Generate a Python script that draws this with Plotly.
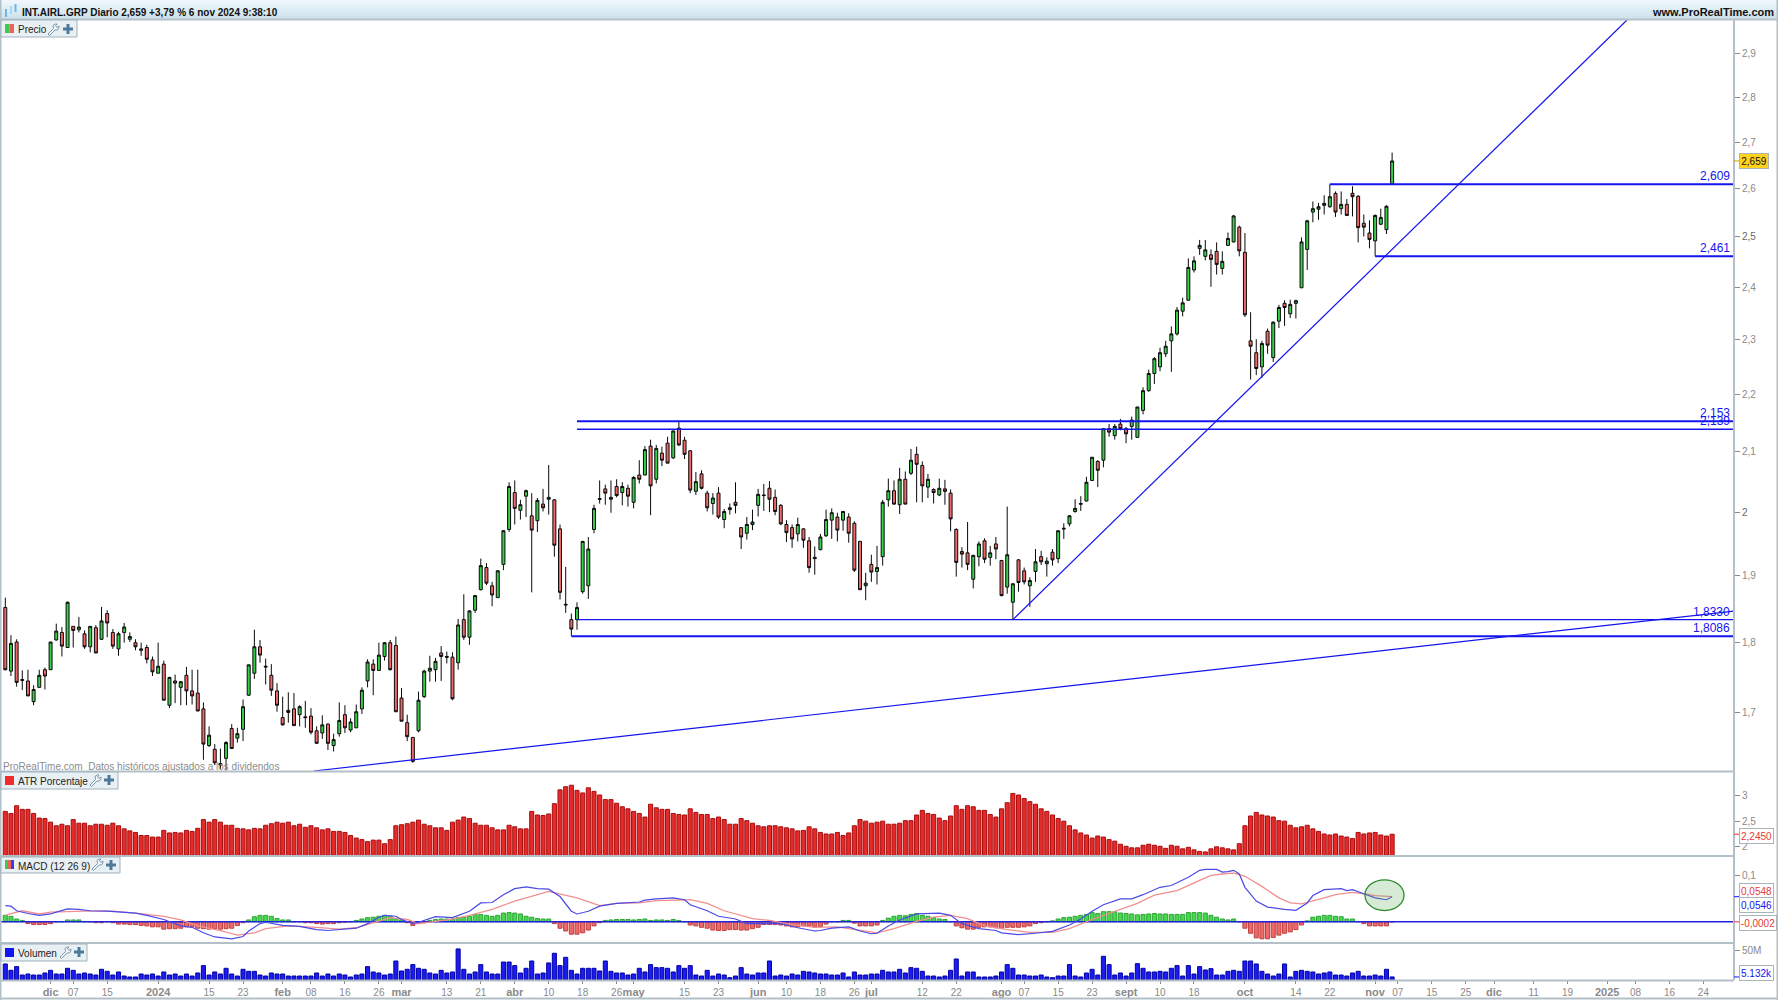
import math
import plotly.graph_objects as go

# ==================== Price data (daily candles) ====================
opens = [
    1.851,1.758,1.800,1.746,1.744,1.715,1.735,1.760,1.760,1.803,
    1.814,1.792,1.823,1.818,1.812,1.793,1.821,1.804,1.842,1.814,
    1.790,1.814,1.804,1.799,1.790,1.792,1.774,1.755,1.768,1.710,
    1.744,1.735,1.752,1.730,1.727,1.705,1.655,1.650,1.631,1.638,
    1.678,1.665,1.677,1.724,1.755,1.793,1.765,1.752,1.730,1.693,
    1.703,1.705,1.697,1.694,1.695,1.675,1.672,1.684,1.655,1.671,
    1.697,1.676,1.679,1.705,1.744,1.768,1.759,1.779,1.799,1.795,
    1.720,1.686,1.666,1.675,1.722,1.758,1.760,1.784,1.779,1.778,
    1.770,1.833,1.807,1.847,1.878,1.912,1.884,1.866,1.917,1.972,
    2.032,2.003,2.026,1.994,1.986,2.013,2.021,2.020,1.973,1.856,
    1.833,1.833,1.875,1.884,1.972,2.022,2.038,2.021,2.042,2.032,
    2.039,2.016,2.061,2.061,2.110,2.054,2.098,2.115,2.090,2.141,
    2.120,2.102,2.034,2.063,2.031,2.014,2.031,1.988,2.004,2.016,
    1.975,1.966,1.980,2.011,2.028,2.039,2.024,2.011,1.980,1.975,
    1.965,1.973,1.954,1.928,1.940,1.962,1.987,1.992,1.987,1.992,
    1.982,1.953,1.884,1.917,1.906,1.929,2.020,2.035,2.012,2.054,
    2.064,2.096,2.077,2.041,2.037,2.028,2.038,2.031,1.972,1.937,
    1.935,1.894,1.929,1.954,1.928,1.949,1.923,1.882,1.859,1.924,
    1.907,1.884,1.906,1.929,1.918,1.936,1.926,1.974,1.981,2.001,
    2.014,2.018,2.052,2.084,2.086,2.140,2.128,2.148,2.140,2.144,
    2.125,2.172,2.207,2.238,2.250,2.274,2.298,2.311,2.354,2.375,
    2.434,2.477,2.461,2.464,2.471,2.437,2.483,2.490,2.520,2.469,
    2.298,2.276,2.250,2.316,2.267,2.335,2.369,2.349,2.369,2.399,
    2.475,2.551,2.557,2.565,2.562,2.590,2.558,2.567,2.590,2.584,
    2.528,2.508,2.492,2.526,2.515,2.610,
]
highs = [
    1.866,1.810,1.804,1.759,1.760,1.738,1.760,1.763,1.800,1.827,
    1.822,1.860,1.823,1.837,1.817,1.823,1.825,1.852,1.847,1.819,
    1.815,1.828,1.814,1.804,1.799,1.796,1.779,1.799,1.773,1.750,
    1.753,1.744,1.764,1.760,1.760,1.714,1.681,1.657,1.651,1.661,
    1.684,1.679,1.718,1.767,1.818,1.803,1.776,1.768,1.741,1.722,
    1.728,1.727,1.710,1.716,1.706,1.681,1.696,1.685,1.671,1.714,
    1.710,1.692,1.711,1.735,1.775,1.775,1.799,1.800,1.803,1.808,
    1.734,1.697,1.666,1.729,1.760,1.780,1.777,1.794,1.786,1.785,
    1.834,1.871,1.847,1.870,1.926,1.919,1.890,1.908,1.971,2.049,
    2.052,2.020,2.037,2.031,2.023,2.038,2.078,2.021,1.980,1.913,
    1.842,1.859,1.954,1.960,2.012,2.052,2.045,2.052,2.054,2.049,
    2.045,2.059,2.086,2.110,2.121,2.112,2.109,2.126,2.137,2.153,
    2.126,2.103,2.066,2.069,2.035,2.031,2.041,2.005,2.014,2.049,
    1.976,1.992,2.004,2.038,2.046,2.051,2.037,2.013,1.987,1.980,
    1.991,1.974,1.960,1.945,1.965,2.004,2.006,1.999,2.002,1.998,
    1.985,1.954,1.904,1.932,1.946,2.020,2.055,2.052,2.073,2.067,
    2.105,2.109,2.084,2.063,2.039,2.055,2.053,2.037,1.974,1.944,
    1.984,1.932,1.953,1.958,1.946,1.960,1.924,2.009,1.888,1.925,
    1.912,1.897,1.941,1.938,1.928,1.941,1.970,1.982,1.995,2.021,
    2.026,2.058,2.091,2.086,2.141,2.148,2.148,2.157,2.143,2.161,
    2.178,2.213,2.245,2.268,2.285,2.298,2.325,2.362,2.380,2.457,
    2.461,2.494,2.494,2.475,2.489,2.471,2.509,2.545,2.523,2.508,
    2.352,2.301,2.298,2.321,2.335,2.366,2.375,2.376,2.376,2.499,
    2.535,2.573,2.570,2.586,2.609,2.594,2.594,2.578,2.605,2.586,
    2.546,2.534,2.546,2.558,2.565,2.677,
]
lows = [
    1.759,1.751,1.736,1.731,1.723,1.710,1.735,1.732,1.760,1.802,
    1.779,1.792,1.792,1.814,1.790,1.785,1.784,1.803,1.807,1.790,
    1.780,1.799,1.800,1.788,1.780,1.769,1.751,1.755,1.717,1.706,
    1.713,1.710,1.710,1.711,1.702,1.636,1.653,1.629,1.624,1.622,
    1.651,1.659,1.661,1.723,1.747,1.770,1.739,1.723,1.701,1.682,
    1.686,1.682,1.681,1.679,1.670,1.658,1.664,1.649,1.647,1.667,
    1.672,1.673,1.679,1.698,1.735,1.724,1.759,1.773,1.759,1.701,
    1.688,1.661,1.632,1.673,1.720,1.743,1.743,1.744,1.769,1.717,
    1.760,1.803,1.796,1.843,1.877,1.885,1.853,1.866,1.908,1.968,
    1.980,1.988,1.992,1.874,1.968,2.001,1.996,1.929,1.863,1.843,
    1.809,1.818,1.872,1.864,1.966,2.014,2.012,1.999,2.024,2.011,
    2.009,2.006,2.047,2.061,1.995,2.047,2.076,2.081,2.088,2.110,
    2.088,2.031,2.028,2.037,2.001,1.996,1.989,1.974,1.996,1.998,
    1.941,1.956,1.971,1.993,2.002,2.000,1.995,1.979,1.952,1.943,
    1.953,1.943,1.904,1.901,1.939,1.960,1.957,1.953,1.970,1.951,
    1.905,1.878,1.862,1.890,1.886,1.915,2.009,2.012,1.997,2.013,
    2.061,2.016,2.016,2.023,2.014,2.026,2.012,1.969,1.898,1.912,
    1.908,1.880,1.914,1.919,1.915,1.925,1.868,1.872,1.833,1.875,
    1.886,1.852,1.890,1.916,1.898,1.915,1.919,1.957,1.977,1.999,
    2.002,2.018,2.051,2.041,2.074,2.126,2.121,2.137,2.115,2.121,
    2.125,2.165,2.205,2.219,2.242,2.268,2.241,2.308,2.344,2.374,
    2.429,2.464,2.453,2.401,2.425,2.425,2.482,2.489,2.461,2.343,
    2.227,2.235,2.230,2.274,2.259,2.322,2.326,2.341,2.340,2.399,
    2.434,2.530,2.535,2.546,2.560,2.541,2.546,2.544,2.542,2.489,
    2.501,2.477,2.461,2.524,2.506,2.610,
]
closes = [
    1.760,1.798,1.742,1.745,1.723,1.732,1.752,1.751,1.800,1.816,
    1.794,1.859,1.817,1.822,1.793,1.823,1.784,1.831,1.828,1.794,
    1.812,1.822,1.808,1.793,1.788,1.775,1.757,1.765,1.717,1.749,
    1.741,1.743,1.730,1.723,1.702,1.657,1.669,1.632,1.629,1.659,
    1.651,1.671,1.708,1.767,1.793,1.781,1.764,1.731,1.710,1.683,
    1.700,1.682,1.708,1.693,1.673,1.658,1.683,1.658,1.663,1.689,
    1.679,1.687,1.701,1.731,1.771,1.759,1.781,1.799,1.760,1.701,
    1.688,1.667,1.634,1.717,1.758,1.762,1.772,1.779,1.778,1.719,
    1.825,1.807,1.846,1.869,1.915,1.888,1.870,1.907,1.970,2.042,
    2.006,2.012,2.035,1.971,2.019,2.007,2.024,1.947,1.874,1.855,
    1.819,1.851,1.953,1.941,2.006,2.021,2.031,2.024,2.027,2.042,
    2.026,2.057,2.054,2.104,2.043,2.106,2.086,2.081,2.136,2.112,
    2.096,2.036,2.050,2.039,2.007,2.023,1.992,2.001,2.007,2.011,
    1.960,1.980,1.984,2.029,2.027,2.021,2.001,1.981,1.967,1.957,
    1.980,1.955,1.912,1.926,1.960,1.988,1.999,1.971,2.001,1.966,
    1.908,1.878,1.888,1.905,1.912,2.016,2.035,2.013,2.054,2.013,
    2.086,2.079,2.043,2.054,2.032,2.039,2.034,1.989,1.920,1.933,
    1.917,1.931,1.949,1.925,1.935,1.941,1.869,1.932,1.887,1.889,
    1.890,1.892,1.921,1.921,1.922,1.924,1.970,1.973,1.994,2.006,
    2.013,2.049,2.091,2.069,2.140,2.134,2.144,2.140,2.131,2.155,
    2.178,2.207,2.238,2.265,2.276,2.288,2.311,2.356,2.370,2.439,
    2.452,2.483,2.474,2.455,2.445,2.451,2.497,2.543,2.472,2.347,
    2.288,2.247,2.293,2.290,2.333,2.361,2.361,2.367,2.374,2.490,
    2.533,2.558,2.562,2.569,2.583,2.551,2.567,2.544,2.583,2.519,
    2.520,2.495,2.544,2.540,2.563,2.659,
]

# ==================== Indicators ====================
atr_pct = [
    2.69,2.65,2.80,2.73,2.73,2.65,2.56,2.55,2.48,2.41,2.44,2.41,2.53,2.46,2.46,2.41,2.44,2.44,2.42,2.46,
    2.41,2.35,2.31,2.28,2.22,2.22,2.19,2.19,2.32,2.27,2.28,2.27,2.32,2.30,2.36,2.53,2.48,2.53,2.48,2.42,
    2.42,2.36,2.35,2.33,2.36,2.35,2.42,2.45,2.48,2.46,2.48,2.41,2.44,2.38,2.41,2.37,2.33,2.35,2.30,2.30,
    2.28,2.22,2.17,2.14,2.10,2.13,2.13,2.06,2.14,2.41,2.43,2.45,2.48,2.52,2.44,2.41,2.37,2.37,2.32,2.48,
    2.52,2.58,2.55,2.46,2.42,2.42,2.37,2.33,2.33,2.42,2.39,2.35,2.35,2.69,2.62,2.61,2.64,2.84,3.11,3.17,
    3.20,3.10,3.05,3.15,3.08,3.01,2.92,2.92,2.85,2.78,2.74,2.69,2.65,2.58,2.83,2.76,2.73,2.73,2.65,2.63,
    2.62,2.74,2.67,2.63,2.63,2.55,2.58,2.53,2.44,2.44,2.55,2.51,2.46,2.41,2.39,2.41,2.41,2.39,2.37,2.35,
    2.31,2.32,2.39,2.35,2.28,2.25,2.25,2.28,2.22,2.27,2.41,2.53,2.50,2.46,2.48,2.50,2.44,2.44,2.46,2.51,
    2.51,2.62,2.71,2.65,2.63,2.56,2.51,2.60,2.80,2.73,2.80,2.78,2.71,2.71,2.63,2.58,2.74,2.86,3.04,3.01,
    2.94,2.88,2.83,2.74,2.69,2.62,2.55,2.50,2.41,2.33,2.27,2.23,2.17,2.21,2.19,2.14,2.11,2.05,2.01,1.98,
    1.98,2.03,2.05,2.03,2.01,1.97,2.03,2.01,1.96,1.99,1.94,1.91,1.90,1.96,2.00,1.98,1.96,1.94,2.06,2.41,
    2.60,2.67,2.62,2.60,2.58,2.51,2.50,2.42,2.37,2.39,2.42,2.35,2.30,2.25,2.23,2.25,2.21,2.19,2.16,2.28,
    2.25,2.27,2.28,2.23,2.21,2.245,
]
macd_hist = [
    .014,.012,.006,.003,-.004,-.006,-.006,-.006,-.004,0,0,.004,.004,.004,0,0,-.002,-.002,0,-.002,
    -.005,-.005,-.006,-.006,-.008,-.009,-.011,-.011,-.016,-.015,-.015,-.014,-.011,-.011,-.014,-.015,-.016,-.015,-.016,-.015,
    -.014,-.008,-.002,.004,.011,.014,.014,.012,.007,.004,.004,0,0,-.002,-.002,-.004,-.005,-.004,-.004,-.002,
    -.001,0,.003,.006,.009,.010,.012,.014,.012,.007,.004,-.002,-.008,-.004,-.002,.003,.005,.006,.006,.006,
    .009,.010,.012,.016,.016,.014,.012,.014,.019,.020,.019,.017,.012,.010,.007,.006,.006,-.004,-.014,-.020,
    -.027,-.027,-.024,-.018,-.009,-.002,.003,.004,.005,.005,.005,.004,.005,.006,.003,.004,.004,.003,.005,.003,
    0,-.007,-.009,-.012,-.014,-.018,-.019,-.019,-.017,-.017,-.018,-.018,-.015,-.012,-.006,-.006,-.006,-.007,-.009,-.011,
    -.011,-.009,-.009,-.011,-.010,-.005,0,0,.003,.003,-.003,-.009,-.009,-.009,-.007,.003,.008,.012,.014,.013,
    .016,.018,.014,.012,.009,.006,.005,0,-.009,-.013,-.016,-.016,-.012,-.011,-.011,-.013,-.014,-.012,-.012,-.012,
    -.011,-.009,-.004,-.002,0,.002,.006,.009,.010,.012,.014,.016,.020,.018,.022,.022,.022,.019,.018,.017,
    .015,.016,.017,.018,.017,.017,.016,.016,.016,.020,.020,.020,.019,.014,.010,.006,.004,.006,0,-.014,
    -.025,-.035,-.037,-.037,-.034,-.029,-.025,-.022,-.017,-.007,.002,.010,.012,.014,.014,.012,.011,.006,.006,0,
    -.004,-.009,-.009,-.009,-.009,-.0002,
]
# MACD and signal lines, read as vertices along each curve
macd_idx = [0,1,2,4,6,8,9,11,13,15,18,21,23,25,28,31,33,35,37,40,42,43,45,46,49,52,55,57,60,62,64,66,67,69,70,72,73,76,79,82,84,86,88,90,92,94,96,98,100,101,103,105,
            108,112,113,115,118,120,121,124,126,129,131,133,137,140,143,144,146,149,151,153,154,156,158,161,165,167,169,172,175,176,179,182,185,188,190,192,194,197,199,201,204,206,209,211,
            212,214,215,216,217,218,219,221,223,226,228,230,231,233,236,237,238,240,242,244,245]
macd_line = [.035,.034,.024,.018,.014,.017,.021,.028,.027,.024,.023,.020,.019,.014,.005,-.009,-.012,-.024,-.033,-.037,-.032,-.020,-.004,-.001,-.008,-.010,-.017,-.019,-.016,-.014,-.004,.010,.014,.012,.005,-.004,-.001,.011,.009,.023,.041,.042,.059,.072,.076,.072,.071,.055,.023,.017,.023,.034,
             .040,.043,.047,.050,.052,.048,.037,.024,.012,.006,-.004,-.004,-.004,-.013,-.020,-.019,-.014,-.011,-.020,-.026,-.025,-.009,.004,.017,.019,.014,-.004,-.015,-.019,-.024,-.028,-.025,-.021,-.007,.006,.023,.037,.050,.050,.059,.075,.079,.097,.112,
             .114,.114,.108,.109,.112,.104,.075,.045,.032,.027,.025,.041,.057,.070,.072,.068,.070,.061,.052,.048,.0546]
signal_idx = [0,1,3,6,8,14,19,23,28,31,34,38,41,44,46,50,55,59,62,65,68,71,73,76,79,82,86,90,94,96,101,105,
              108,112,115,119,121,124,127,132,135,139,143,147,151,154,157,161,164,167,170,173,177,181,185,188,192,196,200,203,207,211,
              213,215,217,219,222,225,227,229,231,233,235,238,240,242,245]
signal_line = [.014,.018,.024,.017,.021,.023,.023,.019,.012,.004,-.009,-.019,-.029,-.024,-.015,-.009,-.012,-.016,-.013,-.002,.009,.005,-.004,.001,.006,.014,.027,.045,.059,.066,.052,.035,
               .040,.041,.046,.048,.048,.040,.024,.007,.003,-.006,-.012,-.011,-.019,-.024,-.015,.001,.010,.014,.007,-.009,-.017,-.023,-.023,-.015,.005,.023,.040,.058,.068,.090,
               .101,.104,.106,.099,.077,.052,.041,.039,.045,.052,.059,.064,.061,.057,.0548]
volume_m = [
    27.0,16.3,22.5,8.4,10.1,8.4,8.4,11.8,16.3,10.1,10.1,19.7,16.3,10.1,11.8,10.1,8.4,18.0,14.6,8.4,
    13.5,6.7,5.1,5.1,10.1,8.4,10.1,6.7,13.5,8.4,10.1,6.7,10.1,6.7,11.8,24.2,8.4,13.5,10.1,19.7,
    10.1,6.7,18.0,14.6,14.6,8.4,6.7,11.8,10.1,10.1,6.7,6.7,6.7,6.7,6.7,11.8,6.7,10.1,6.7,10.1,
    8.4,5.1,8.4,10.1,22.5,13.5,11.8,8.4,10.1,32.0,15.2,18.0,25.9,19.7,18.0,11.8,10.1,16.3,11.8,13.5,
    52.3,18.0,10.1,13.5,25.9,13.5,10.1,10.1,30.3,30.3,24.2,11.8,19.7,32.0,10.1,11.8,28.7,45.0,24.2,38.2,
    16.3,10.1,19.7,19.7,19.7,15.2,32.0,14.6,11.8,11.8,8.4,10.1,19.7,13.5,25.9,20.8,20.8,19.7,13.5,24.2,
    19.7,24.2,8.4,6.7,16.3,6.7,10.1,8.4,3.9,6.7,20.8,10.1,8.4,11.8,11.8,32.0,6.7,8.4,6.7,10.1,
    8.4,14.6,13.5,11.8,10.1,10.1,8.4,8.4,11.8,5.1,13.5,8.4,8.4,10.1,10.1,16.3,13.5,13.5,18.0,11.8,
    20.8,19.7,14.6,6.7,6.7,5.1,6.7,16.3,35.4,6.7,13.5,13.5,5.1,5.1,5.1,6.7,13.5,25.9,19.7,8.4,
    8.4,6.7,6.7,8.4,5.1,3.9,6.7,6.7,25.9,6.7,5.1,11.8,18.0,8.4,39.9,25.9,8.4,11.8,6.7,11.8,
    27.5,19.7,13.5,13.5,14.6,13.5,19.7,24.2,6.7,24.2,10.1,22.5,16.9,19.1,8.4,8.4,14.6,16.3,14.6,32.0,
    32.0,27.0,14.6,10.1,6.7,10.1,27.0,5.1,14.6,16.3,14.6,13.5,10.1,11.8,13.5,8.4,8.4,6.7,11.8,14.6,
    6.7,6.7,8.4,6.7,18.0,5.132,
]

# ==================== X axis labels ====================
x_tick_idx = [8,12,18,27,36,42,49,54,60,66,70,78,84,90,96,102,108,111,120,126,133,138,144,150,153,162,168,176,180,186,192,198,204,210,219,228,234,242,246,252,258,263,270,276,283,288,294,300]
x_tick_txt = ["dic","07","15","2024","15","23","feb","08","16","26","mar","13","21","abr","10","18","26","may","15","23","jun","10","18","26","jul","12","22","ago","07","15","23","sept","10","18","oct","14","22","nov","07","15","25","dic","11","19","2025","08","16","24"]
# month and year labels are the bold ones
x_tick_bold = ["dic","2024","feb","mar","abr","may","jun","jul","ago","sept","oct","nov","2025"]

# ==================== Drawn levels and trend lines ====================
level_vals = [2.609, 2.461, 2.153, 2.139, 1.833, 1.8086]
level_txt = ["2,609", "2,461", "2,153", "2,139", "1,8330", "1,8086"]
level_from = [234, 242, 101, 101, 101, 100]
level_width = [2, 2, 2, 1.5, 1.2, 2]
trend_a_idx = [178, 286.5]
trend_a_val = [1.833, 2.981]
trend_b_idx = [54.5, 305.4]
trend_b_val = [1.6212, 1.8458]

price_ticks = [1.7, 1.8, 1.9, 2, 2.1, 2.2, 2.3, 2.4, 2.5, 2.6, 2.7, 2.8, 2.9]
price_tick_txt = ["1,7", "1,8", "1,9", "2", "2,1", "2,2", "2,3", "2,4", "2,5", "2,6", "2,7", "2,8", "2,9"]

X_MAX = 305.4
BLUE = "#1414f0"
GREY = "#8a8a8a"
BORDER = "#b3c0c7"
FONT = "Liberation Sans"
x_all = list(range(len(closes)))


def px(x):
    return x / 1778


def py(y):
    return 1 - y / 1000


def rect(x0, y0, x1, y1, fill, line=None, w=1):
    return dict(type="rect", xref="paper", yref="paper", x0=px(x0), x1=px(x1), y0=py(y0), y1=py(y1),
                fillcolor=fill, line=dict(color=line or fill, width=w if line else 0), layer="above")


def seg(x0, y0, x1, y1, color=BORDER, w=2):
    return dict(type="line", xref="paper", yref="paper", x0=px(x0), x1=px(x1), y0=py(y0), y1=py(y1),
                line=dict(color=color, width=w), layer="above")


def wrench(x, y):
    # little outline spanner of the ProRealTime toolbar
    pts = [(0, 10), (5.5, 4.5), (5, 1.5), (7.5, 0), (9, 0), (7.5, 2), (9, 3.5), (11, 2), (11, 3.5), (9.5, 6), (7, 6), (1.5, 11.5), (0, 10)]
    d = "M" + " L".join(f"{px(x + a):.5f},{py(y + b):.5f}" for a, b in pts) + " Z"
    return dict(type="path", xref="paper", yref="paper", path=d, line=dict(color="#7b97ab", width=1), fillcolor="#f4f8fa", layer="above")


def plus(x, y):
    return [rect(x + 3.5, y, x + 6.5, y + 10, "#4d7a98"), rect(x, y + 3.5, x + 10, y + 6.5, "#4d7a98")]


# ==================== Traces ====================
fig = go.Figure()

fig.add_trace(go.Candlestick(
    x=x_all, open=opens, high=highs, low=lows, close=closes,
    increasing=dict(line=dict(color="#0a0a0a", width=1), fillcolor="#36d04a"),
    decreasing=dict(line=dict(color="#0a0a0a", width=1), fillcolor="#f0696a"),
    whiskerwidth=0, showlegend=False, hoverinfo="skip", xaxis="x", yaxis="y",
))

for val, start, wid in zip(level_vals, level_from, level_width):
    fig.add_trace(go.Scatter(x=[start, X_MAX], y=[val, val], mode="lines", line=dict(color=BLUE, width=wid),
                             showlegend=False, hoverinfo="skip", yaxis="y"))
fig.add_trace(go.Scatter(x=trend_a_idx, y=trend_a_val, mode="lines", line=dict(color=BLUE, width=1.2),
                         showlegend=False, hoverinfo="skip", yaxis="y"))
fig.add_trace(go.Scatter(x=trend_b_idx, y=trend_b_val, mode="lines", line=dict(color=BLUE, width=1.2),
                         showlegend=False, hoverinfo="skip", yaxis="y"))

fig.add_trace(go.Bar(x=x_all, y=atr_pct, marker=dict(color="#e62a2a", line=dict(color="#a80d0d", width=1)),
                     showlegend=False, hoverinfo="skip", yaxis="y2"))

hist_colors = ["#46d84e" if v >= 0 else "#ee6a6a" for v in macd_hist]
hist_edges = ["#2ea536" if v >= 0 else "#c04040" for v in macd_hist]
fig.add_trace(go.Bar(x=x_all, y=macd_hist, marker=dict(color=hist_colors, line=dict(color=hist_edges, width=1)),
                     showlegend=False, hoverinfo="skip", yaxis="y3"))
fig.add_trace(go.Scatter(x=[-1, X_MAX], y=[0, 0], mode="lines", line=dict(color="#2222dd", width=1.5),
                         showlegend=False, hoverinfo="skip", yaxis="y3"))
fig.add_trace(go.Scatter(x=signal_idx, y=signal_line, mode="lines", line=dict(color="#f09090", width=1.3),
                         showlegend=False, hoverinfo="skip", yaxis="y3"))
fig.add_trace(go.Scatter(x=macd_idx, y=macd_line, mode="lines", line=dict(color="#4a4ae6", width=1.2),
                         showlegend=False, hoverinfo="skip", yaxis="y3"))

fig.add_trace(go.Bar(x=x_all, y=[v * 1e6 for v in volume_m], marker=dict(color="#1c1cf0", line=dict(color="#0000a8", width=1)),
                     showlegend=False, hoverinfo="skip", yaxis="y4"))

# ==================== Header, toolbar boxes, borders ====================
shapes = []
header_colors = ["#eef6fb", "#e6f2f8", "#e0eef5", "#dbeaf2", "#d6e6ef", "#d0e2ec"]
for i, c in enumerate(header_colors):
    shapes.append(rect(0, i * 3.2, 1778, (i + 1) * 3.2 + 0.5, c))
shapes.append(seg(0, 19.5, 1778, 19.5))
# header candle icon
shapes += [rect(5, 9, 7, 17, "#6db6e8"), rect(10, 6, 12, 14, "#a9d6f2"), rect(14.5, 4, 16.5, 12, "#6db6e8")]

shapes += [seg(0.5, 0, 0.5, 1000), seg(1734, 20, 1734, 980), seg(1777.5, 0, 1777.5, 1000), seg(0, 998.5, 1778, 998.5),
           seg(0, 771.5, 1734, 771.5), seg(0, 856, 1734, 856), seg(0, 943, 1734, 943), seg(0, 980.5, 1734, 980.5)]

boxes = [(0, 20, 77, 37), (0, 772, 118, 789), (0, 857, 120, 873), (0, 944, 87, 961)]
wrenches = [(48, 24), (90, 775), (92, 859), (60, 947)]
pluses = [(63, 24), (104, 775), (106, 860), (74, 947)]
for b, w_, p_ in zip(boxes, wrenches, pluses):
    shapes.append(rect(b[0] + 1, b[1], b[2], b[3], "#e9f0f4", "#9fb2be", 1))
    shapes.append(wrench(*w_))
    shapes += plus(*p_)
shapes += [rect(5, 24, 9.5, 33, "#3ec94a"), rect(9.5, 24, 14, 33, "#ee6060")]
shapes.append(rect(5, 776, 14, 785, "#ee2c2c"))
shapes += [rect(5, 860, 8, 869, "#3ec94a"), rect(8, 860, 11, 869, "#ee6060"), rect(11, 860, 14, 869, "#3c3ce0")]
shapes.append(rect(5, 948, 14, 957, "#1414f0"))

# green marker ellipse around the last MACD values
shapes.append(dict(type="circle", xref="x", yref="y3", x0=240.2, x1=247.1, y0=0.0244, y1=0.0914,
                   fillcolor="rgba(90,170,90,0.25)", line=dict(color="#2c8c2c", width=1.3), layer="above"))

# colored ticks for the last values on the right axis
tick_marks = [("y", 2.659, "#c9a400"), ("y2", 2.245, "#e33"), ("y3", 0.0546, BLUE), ("y3", -0.0002, "#e33"), ("y4", 5.132e6, BLUE)]
for yref, val, col in tick_marks:
    shapes.append(dict(type="line", xref="paper", yref=yref, x0=px(1734), x1=px(1739), y0=val, y1=val,
                       line=dict(color=col, width=1), layer="above"))

# ==================== Text ====================
ann = []


def text(x, y, s, size=10, color="#222", anchor="left", **kw):
    ann.append(dict(xref="paper", yref="paper", x=px(x), y=py(y), text=s, showarrow=False, xanchor=anchor, yanchor="middle",
                    font=dict(family=FONT, size=size, color=color), borderpad=0, **kw))


text(21, 12, "<b>INT.AIRL.GRP Diario 2,659 +3,79 % 6 nov 2024 9:38:10</b>", size=10, color="#111")
text(1775, 12, "<b>www.ProRealTime.com</b>", size=11, color="#111", anchor="right")
text(17, 29.5, "Precio")
text(17, 781, "ATR Porcentaje")
text(17, 866, "MACD (12 26 9)")
text(17, 953, "Volumen")
text(2, 766, "ProRealTime.com  Datos históricos ajustados a los dividendos", color="#8c8c8c")

for val, label in zip(level_vals, level_txt):
    ann.append(dict(xref="paper", yref="y", x=px(1731), y=math.log10(val), text=label, showarrow=False, xanchor="right",
                    yanchor="bottom", yshift=0, borderpad=0, font=dict(family=FONT, size=12, color=BLUE)))


def value_box(cy, label, color, fill="#ffffff", w=33, h=14):
    ann.append(dict(xref="paper", yref="paper", x=px(1738.5), y=py(cy), text=label, showarrow=False, xanchor="left", yanchor="middle",
                    align="center", width=w, height=h, bgcolor=fill, bordercolor="#a9b4ba", borderwidth=1, borderpad=0,
                    font=dict(family=FONT, size=10, color=color)))


value_box(161.5, "2,659", "#111111", "#ffd21e", w=28)
value_box(836, "2,2450", "#e33a3a")
value_box(890.5, "0,0548", "#e33a3a")
value_box(905, "0,0546", BLUE)
value_box(923, "-0,0002", "#e33a3a", w=36)
value_box(973, "5.132k", BLUE)

# ==================== Layout ====================
tick_style = dict(side="right", anchor="x", showgrid=False, zeroline=False, showline=False, ticks="outside", ticklen=5,
                  tickwidth=1, tickcolor=GREY, tickfont=dict(family=FONT, size=10, color=GREY))

axis_labels = [f'<span style="font-size:11px"><b>{t}</b></span>' if t in x_tick_bold else t for t in x_tick_txt]
price_labels = [f'<span style="color:#666">{t}</span>' if t in ("2", "2,5") else t for t in price_tick_txt]

fig.update_layout(
    width=1778, height=1000, autosize=False,
    margin=dict(l=0, r=0, t=0, b=0),
    paper_bgcolor="white", plot_bgcolor="white",
    showlegend=False, bargap=0.28, barmode="overlay", boxgap=0.25,
    font=dict(family=FONT),
    xaxis=dict(domain=[px(1), px(1734)], range=[-0.76, X_MAX], anchor="y4", tickmode="array", tickvals=x_tick_idx, ticktext=axis_labels,
               tickangle=0, showgrid=False, zeroline=False, ticks="outside", ticklen=3, tickcolor=GREY,
               tickfont=dict(family=FONT, size=10, color=GREY), rangeslider=dict(visible=False), showline=False),
    yaxis=dict(domain=[py(771), py(20)], type="log", range=[math.log10(1.6212), math.log10(2.981)], tickmode="array",
               tickvals=price_ticks, ticktext=price_labels, **tick_style),
    yaxis2=dict(domain=[py(855), py(772)], range=[1.84, 3.458], tickmode="array", tickvals=[2, 2.5, 3], ticktext=["2", "2,5", "3"], **tick_style),
    yaxis3=dict(domain=[py(942), py(857)], range=[-0.044, 0.141], tickmode="array", tickvals=[0.1], ticktext=["0,1"], **tick_style),
    yaxis4=dict(domain=[py(980), py(944)], range=[0, 60.6e6], tickmode="array", tickvals=[50e6], ticktext=["50M"], **tick_style),
    shapes=shapes,
    annotations=ann,
)

fig.write_html("out.html", config=dict(displayModeBar=False), post_script="document.body.style.margin='0';")
